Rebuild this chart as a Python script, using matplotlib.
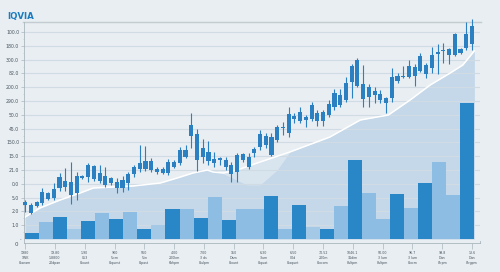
import numpy as np
import matplotlib
matplotlib.use("Agg")
import matplotlib.pyplot as plt

# ---------------- data ----------------
title = "IQVIA"
y_tick_labels = ["1.0", "2.0", "5.0", "0.0", "21.0", "15.0", "150.0", "45.0",
                 "50.0", "290.0", "200.0", "82.0", "300.0", "180.0", "100.0"]
x_line1 = ["1980", "19.80", "1.90", "900", "560", "4.00", "7.00", "150",
           "6.30", "6.50", "70.52", "1046.1", "50.00", "96.7", "99.8", "13.6"]
x_line2 = ["1WK", "1.8800", "053", "5.cm", "5.in", "200km", "3 ds", "Dam",
           "3lum", "00d", "200m", "31dim", "3 lum", "3 lum", "Dun", "Dun"]
x_line3 = ["8.aeam", "20dpan", "8.ount", "8.quest", "8.past", "6bhpm", "8.ulpm", "8.ount",
           "8.quat", "8.aquet", "8.ocom", "8ultpm", "8ultpm", "8.ocm", "8trpm", "8trgpm"]

# candlesticks (body top / body bottom / high / low)
body_top = [37, 34, 37, 47, 46, 50, 62, 58, 57, 63, 63, 74, 73, 66, 63, 61, 57, 59, 65, 72,
            76, 78, 78, 70, 70, 77, 77, 89, 89, 114, 105, 91, 87, 80, 81, 79, 74, 84, 85, 82,
            90, 105, 103, 102, 112, 112, 125, 123, 127, 122, 134, 126, 127, 135, 146, 144, 156, 173, 179, 155,
            152, 148, 145, 141, 162, 163, 163, 173, 172, 183, 174, 184, 187, 189, 190, 205, 190, 205, 213]
body_bot = [34, 26, 33, 36, 40, 41, 51, 52, 44, 46, 61, 62, 60, 58, 54, 56, 51, 51, 56, 65,
            70, 70, 69, 67, 66, 66, 72, 76, 82, 103, 79, 82, 78, 76, 79, 72, 65, 67, 79, 72,
            86, 92, 94, 84, 99, 111, 106, 120, 118, 119, 120, 118, 118, 124, 132, 134, 139, 157, 153, 140,
            142, 144, 139, 136, 141, 158, 162, 162, 163, 168, 165, 171, 185, 188, 184, 184, 186, 191, 195]
high = [39, 36, 38, 51, 47, 56, 66, 71, 77, 67, 64, 76, 74, 74, 72, 62, 61, 63, 67, 74,
        94, 93, 81, 72, 72, 80, 79, 92, 94, 126, 110, 100, 98, 87, 82, 82, 77, 86, 86, 86,
        92, 109, 106, 106, 114, 117, 132, 126, 132, 124, 137, 129, 129, 139, 150, 150, 162, 175, 181, 174,
        155, 152, 149, 142, 171, 166, 173, 179, 175, 186, 176, 192, 195, 196, 191, 206, 191, 217, 220]
low = [27, 25, 32, 34, 39, 39, 48, 48, 35, 39, 60, 57, 58, 56, 52, 54, 46, 47, 49, 62,
       67, 68, 67, 65, 65, 64, 71, 74, 81, 91, 68, 76, 74, 72, 74, 69, 57, 57, 77, 70,
       82, 89, 91, 83, 97, 104, 102, 116, 116, 112, 118, 113, 113, 122, 129, 132, 137, 141, 152, 132,
       132, 136, 136, 126, 137, 156, 161, 161, 153, 167, 161, 166, 165, 176, 175, 183, 185, 189, 189]

# volume-like bars
bar_values = [6, 17, 22, 10, 18, 26, 20, 27, 10, 14, 30, 30, 21, 42, 19, 30,
              30, 43, 10, 34, 12, 10, 33, 79, 46, 20, 45, 31, 56, 77, 44, 136]
bar_shade = ["d", "l", "d", "p", "d", "l", "d", "l", "d", "p", "d", "l", "d", "l", "d", "l",
             "l", "d", "l", "d", "p", "d", "l", "d", "l", "l", "d", "l", "d", "l", "l", "d"]

# trend line (white) and shaded area
line_x = [0, 2.6, 6.1, 9.6, 11.9, 15.4, 18.8, 23.6, 27.1, 29.3, 31.8, 32.8, 34.6, 37.0,
          40.5, 46.2, 53.2, 58.5, 63.4, 67.2, 70.7, 74.2, 76.4, 78.4]
line_y = [22, 31, 39, 46, 51, 52, 53, 56, 62, 66, 69, 67, 66, 69,
          76, 87, 102, 119, 124, 139, 154, 166, 174, 188]
area_x = [0, 2.6, 6.1, 9.6, 11.9, 15.4, 18.8, 23.6, 27.1, 29.3, 31.8, 33.2, 35.8, 38.7,
          41.0, 44.0, 46.2, 53.2, 58.5, 63.4, 67.2, 70.7, 74.2, 76.4, 78.4]
area_y = [22, 31, 39, 46, 51, 52, 53, 56, 62, 66, 69, 69, 62, 54,
          54, 69, 87, 102, 119, 124, 139, 154, 166, 174, 188]

# ---------------- style ----------------
BG = "#e8eef2"
DARK = "#2987c8"
LIGHT = "#8dbde2"
PALE = "#a3c9e6"
CANDLE = "#2a80c0"
shade_col = {"d": DARK, "l": LIGHT, "p": PALE}

fig = plt.figure(figsize=(5.0, 2.72), dpi=100)
fig.patch.set_facecolor(BG)
ax = fig.add_axes([24 / 500, 29 / 272, 456 / 500, 226 / 272])
ax.set_facecolor(BG)
ax.set_xlim(-0.2, 79.4)
ax.set_ylim(-4, 222)

# areas
ax.fill_between(line_x, 0, line_y, color="#d8e4ee", lw=0, zorder=1)
ax.fill_between(area_x, 0, area_y, color="#c4d8ea", lw=0, zorder=1.2)

# grid
grid_pos = np.arange(1, 16) * 13.8
for g in grid_pos:
    ax.axhline(g, color="#d0dbe4", lw=0.8, zorder=1.5)
ax.axhline(217, color="#c4ccd2", lw=1.0, zorder=1.5, xmin=-0.003, xmax=1.003, clip_on=False)

# bars
bw = 78.4 / len(bar_values)
bx = np.arange(len(bar_values)) * bw
ax.bar(bx, bar_values, width=bw, align="edge",
       color=[shade_col[s] for s in bar_shade], lw=0, zorder=2)

# white line
ax.plot(line_x, line_y, color="white", lw=1.1, zorder=2.5)

# candles
cx = np.arange(len(body_top))
ax.vlines(cx, low, high, color=CANDLE, lw=0.8, zorder=3, clip_on=False)
hts = np.maximum(np.array(body_top) - np.array(body_bot), 1.2)
ax.bar(cx, hts, bottom=body_bot, width=0.72, color=CANDLE, lw=0, zorder=3.1, clip_on=False)

# axes styling
for s in ["top", "right"]:
    ax.spines[s].set_visible(False)
ax.spines["left"].set_color("#aab5bd")
ax.spines["left"].set_linewidth(0.6)
ax.spines["left"].set_bounds(-4, 217)
ax.spines["bottom"].set_color("#aab5bd")
ax.spines["bottom"].set_linewidth(0.6)

ax.set_yticks(grid_pos)
ax.set_yticklabels(y_tick_labels, fontsize=3.3, color="#4a5560")
ax.set_yticks(np.arange(0.5, 15.5, 0.5) * 13.8, minor=True)
ax.tick_params(axis="y", which="major", length=2, width=0.5, color="#aab5bd", pad=1.5)
ax.tick_params(axis="y", which="minor", length=1, width=0.4, color="#b8c2c9")

xt = np.linspace(0, 78, 16)
ax.set_xticks(xt)
ax.set_xticklabels([f"{a}\n{b}\n{c}" for a, b, c in zip(x_line1, x_line2, x_line3)],
                   fontsize=2.3, color="#4a5560", linespacing=1.25)
ax.tick_params(axis="x", length=4, width=0.5, color="#aab5bd", pad=2)

# right end tick of x-axis
ax.plot([79.4, 79.4], [-4, -1.5], color="#aab5bd", lw=0.6, clip_on=False)

fig.text(16 / 500, 1 - 245 / 272, "0", fontsize=4, color="#4a5560", ha="center", va="center")
fig.text(20 / 500, 1 - 238 / 272, ".", fontsize=4, color="#4a5560", ha="center", va="center")

fig.text(7 / 500, 1 - 19.5 / 272, title, fontsize=6.2, fontweight="bold", color="#1b7cc0",
         ha="left", va="baseline")

fig.savefig("out.png", dpi=100, facecolor=BG)
